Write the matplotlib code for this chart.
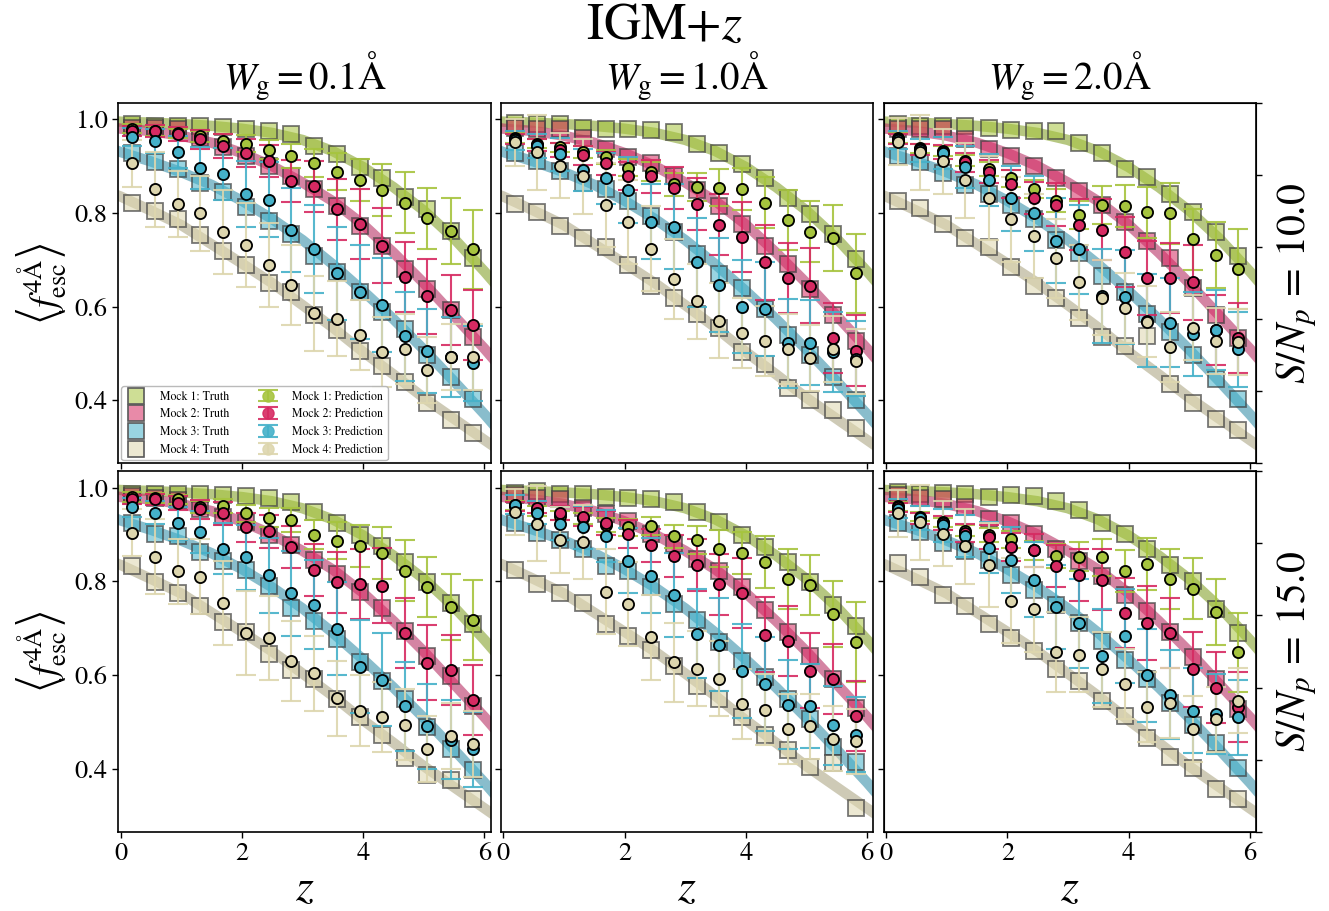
import numpy as np
import matplotlib
matplotlib.use('Agg')
import matplotlib.pyplot as plt
from matplotlib.lines import Line2D

plt.rcParams['font.family'] = 'serif'
plt.rcParams['font.serif'] = ['STIXGeneral', 'Liberation Serif', 'DejaVu Serif']
plt.rcParams['mathtext.fontset'] = 'stix'

# redshift bins
z_bins = [0.19, 0.56, 0.94, 1.31, 1.69, 2.06, 2.44, 2.81, 3.19, 3.56, 3.94, 4.31, 4.69, 5.06, 5.44, 5.81]

# smooth truth curves (thick lines)
z_curve = [-0.1, 0.0, 0.5, 1.0, 1.5, 2.0, 2.5, 3.0, 3.5, 4.0, 4.5, 5.0, 5.5, 6.0, 6.2]
curve_m1 = [0.996, 0.995, 0.993, 0.990, 0.986, 0.980, 0.971, 0.956, 0.932, 0.898, 0.855, 0.805, 0.745, 0.675, 0.645]
curve_m2 = [0.982, 0.980, 0.975, 0.965, 0.950, 0.928, 0.900, 0.865, 0.825, 0.775, 0.715, 0.650, 0.580, 0.510, 0.480]
curve_m3 = [0.935, 0.930, 0.910, 0.887, 0.860, 0.826, 0.787, 0.742, 0.690, 0.633, 0.573, 0.508, 0.440, 0.370, 0.340]
curve_m4 = [0.840, 0.835, 0.805, 0.774, 0.733, 0.692, 0.650, 0.603, 0.555, 0.503, 0.455, 0.405, 0.360, 0.315, 0.297]

# truth (squares), per panel: [mock1, mock2, mock3, mock4]
truth_11 = [[0.989, 0.986, 0.986, 0.986, 0.984, 0.979, 0.974, 0.968, 0.943, 0.926, 0.898, 0.874, 0.833, 0.808, 0.761, 0.703],
            [0.982, 0.982, 0.979, 0.961, 0.940, 0.922, 0.901, 0.879, 0.851, 0.815, 0.773, 0.730, 0.680, 0.638, 0.592, 0.535],
            [0.927, 0.908, 0.893, 0.865, 0.844, 0.812, 0.783, 0.755, 0.709, 0.673, 0.631, 0.588, 0.553, 0.496, 0.450, 0.403],
            [0.822, 0.805, 0.786, 0.753, 0.719, 0.688, 0.650, 0.631, 0.581, 0.550, 0.506, 0.474, 0.438, 0.394, 0.357, 0.330]]
truth_12 = [[0.993, 0.991, 0.989, 0.982, 0.980, 0.979, 0.977, 0.973, 0.947, 0.927, 0.904, 0.874, 0.832, 0.797, 0.755, 0.702],
            [0.982, 0.979, 0.980, 0.961, 0.936, 0.920, 0.906, 0.879, 0.849, 0.814, 0.776, 0.730, 0.690, 0.638, 0.582, 0.526],
            [0.927, 0.911, 0.890, 0.865, 0.851, 0.826, 0.794, 0.760, 0.712, 0.670, 0.639, 0.594, 0.540, 0.496, 0.450, 0.400],
            [0.819, 0.801, 0.773, 0.746, 0.727, 0.689, 0.645, 0.618, 0.584, 0.554, 0.503, 0.477, 0.426, 0.400, 0.379, 0.341]]
truth_13 = [[0.989, 0.986, 0.986, 0.986, 0.982, 0.977, 0.975, 0.975, 0.950, 0.929, 0.893, 0.876, 0.840, 0.801, 0.759, 0.709],
            [0.980, 0.980, 0.979, 0.957, 0.936, 0.922, 0.901, 0.874, 0.847, 0.817, 0.780, 0.739, 0.703, 0.639, 0.581, 0.533],
            [0.922, 0.908, 0.885, 0.859, 0.840, 0.817, 0.787, 0.742, 0.714, 0.665, 0.632, 0.585, 0.545, 0.497, 0.446, 0.403],
            [0.826, 0.810, 0.776, 0.746, 0.727, 0.684, 0.645, 0.618, 0.575, 0.535, 0.516, 0.538, 0.435, 0.395, 0.359, 0.336]]
truth_21 = [[0.987, 0.987, 0.987, 0.986, 0.984, 0.982, 0.977, 0.970, 0.948, 0.924, 0.899, 0.875, 0.842, 0.798, 0.754, 0.708],
            [0.982, 0.977, 0.973, 0.955, 0.938, 0.927, 0.899, 0.878, 0.846, 0.816, 0.778, 0.743, 0.694, 0.640, 0.598, 0.534],
            [0.924, 0.902, 0.897, 0.863, 0.844, 0.824, 0.789, 0.743, 0.715, 0.677, 0.628, 0.587, 0.548, 0.488, 0.442, 0.396],
            [0.832, 0.798, 0.776, 0.747, 0.713, 0.691, 0.645, 0.610, 0.592, 0.548, 0.510, 0.471, 0.423, 0.386, 0.375, 0.336]]
truth_22 = [[0.989, 0.993, 0.986, 0.986, 0.981, 0.977, 0.975, 0.970, 0.948, 0.927, 0.898, 0.874, 0.842, 0.798, 0.749, 0.705],
            [0.984, 0.979, 0.975, 0.957, 0.943, 0.929, 0.901, 0.879, 0.847, 0.822, 0.787, 0.739, 0.691, 0.640, 0.592, 0.529],
            [0.925, 0.904, 0.888, 0.869, 0.833, 0.822, 0.787, 0.751, 0.717, 0.670, 0.629, 0.595, 0.549, 0.505, 0.446, 0.413],
            [0.825, 0.794, 0.775, 0.753, 0.709, 0.684, 0.654, 0.620, 0.577, 0.549, 0.511, 0.472, 0.439, 0.403, 0.411, 0.315]]
truth_23 = [[0.991, 0.987, 0.989, 0.986, 0.980, 0.984, 0.982, 0.972, 0.952, 0.924, 0.902, 0.870, 0.835, 0.801, 0.740, 0.690],
            [0.984, 0.977, 0.975, 0.958, 0.933, 0.925, 0.901, 0.868, 0.844, 0.812, 0.771, 0.736, 0.691, 0.639, 0.592, 0.527],
            [0.924, 0.906, 0.881, 0.865, 0.846, 0.814, 0.782, 0.750, 0.711, 0.672, 0.632, 0.592, 0.541, 0.493, 0.455, 0.401],
            [0.839, 0.809, 0.771, 0.747, 0.708, 0.679, 0.651, 0.612, 0.587, 0.545, 0.513, 0.465, 0.425, 0.402, 0.357, 0.334]]

# predictions (circles), per panel
pred_11 = [[0.980, 0.975, 0.970, 0.964, 0.954, 0.948, 0.935, 0.922, 0.906, 0.888, 0.871, 0.849, 0.822, 0.789, 0.762, 0.722],
           [0.975, 0.975, 0.968, 0.957, 0.943, 0.929, 0.911, 0.869, 0.857, 0.808, 0.776, 0.730, 0.663, 0.622, 0.592, 0.561],
           [0.962, 0.954, 0.930, 0.896, 0.883, 0.840, 0.828, 0.764, 0.723, 0.671, 0.631, 0.604, 0.537, 0.505, 0.492, 0.479],
           [0.906, 0.851, 0.819, 0.799, 0.760, 0.732, 0.689, 0.646, 0.586, 0.574, 0.540, 0.503, 0.509, 0.464, 0.492, 0.492]]
pred_12 = [[0.960, 0.948, 0.940, 0.930, 0.920, 0.897, 0.888, 0.861, 0.856, 0.854, 0.851, 0.822, 0.785, 0.760, 0.746, 0.671],
           [0.958, 0.945, 0.935, 0.923, 0.906, 0.879, 0.878, 0.854, 0.819, 0.775, 0.749, 0.695, 0.661, 0.645, 0.533, 0.506],
           [0.955, 0.943, 0.925, 0.891, 0.874, 0.849, 0.781, 0.771, 0.695, 0.646, 0.600, 0.595, 0.522, 0.523, 0.503, 0.489],
           [0.951, 0.930, 0.901, 0.878, 0.817, 0.780, 0.724, 0.659, 0.611, 0.570, 0.543, 0.526, 0.510, 0.490, 0.509, 0.483]]
pred_13 = [[0.960, 0.938, 0.932, 0.912, 0.893, 0.874, 0.851, 0.826, 0.796, 0.817, 0.815, 0.801, 0.799, 0.744, 0.710, 0.680],
           [0.958, 0.936, 0.930, 0.908, 0.888, 0.862, 0.832, 0.818, 0.775, 0.764, 0.717, 0.661, 0.661, 0.652, 0.550, 0.533],
           [0.956, 0.934, 0.928, 0.899, 0.870, 0.831, 0.799, 0.741, 0.722, 0.622, 0.620, 0.570, 0.565, 0.542, 0.550, 0.509],
           [0.952, 0.930, 0.910, 0.870, 0.832, 0.786, 0.751, 0.703, 0.652, 0.619, 0.597, 0.568, 0.513, 0.555, 0.526, 0.524]]
pred_21 = [[0.980, 0.978, 0.975, 0.959, 0.961, 0.945, 0.936, 0.931, 0.900, 0.887, 0.875, 0.861, 0.823, 0.788, 0.745, 0.717],
           [0.975, 0.975, 0.968, 0.954, 0.945, 0.915, 0.907, 0.874, 0.824, 0.798, 0.794, 0.791, 0.689, 0.626, 0.610, 0.547],
           [0.958, 0.947, 0.924, 0.906, 0.870, 0.851, 0.813, 0.774, 0.750, 0.699, 0.618, 0.590, 0.533, 0.490, 0.462, 0.441],
           [0.904, 0.853, 0.821, 0.810, 0.754, 0.690, 0.679, 0.630, 0.604, 0.550, 0.524, 0.510, 0.494, 0.442, 0.469, 0.453]]
pred_22 = [[0.962, 0.950, 0.940, 0.935, 0.920, 0.915, 0.918, 0.896, 0.889, 0.870, 0.860, 0.841, 0.805, 0.792, 0.730, 0.670],
           [0.960, 0.957, 0.945, 0.938, 0.925, 0.902, 0.877, 0.854, 0.835, 0.794, 0.775, 0.686, 0.673, 0.609, 0.592, 0.513],
           [0.964, 0.947, 0.923, 0.915, 0.897, 0.844, 0.812, 0.771, 0.688, 0.665, 0.609, 0.581, 0.536, 0.533, 0.492, 0.472],
           [0.948, 0.923, 0.888, 0.884, 0.778, 0.751, 0.680, 0.627, 0.613, 0.592, 0.538, 0.526, 0.485, 0.490, 0.464, 0.458]]
pred_23 = [[0.960, 0.938, 0.926, 0.908, 0.899, 0.890, 0.866, 0.854, 0.853, 0.851, 0.822, 0.837, 0.805, 0.784, 0.735, 0.648],
           [0.958, 0.935, 0.924, 0.903, 0.895, 0.874, 0.866, 0.832, 0.814, 0.803, 0.732, 0.711, 0.690, 0.612, 0.573, 0.532],
           [0.955, 0.935, 0.920, 0.897, 0.872, 0.846, 0.803, 0.745, 0.710, 0.640, 0.683, 0.599, 0.558, 0.524, 0.517, 0.510],
           [0.945, 0.926, 0.902, 0.875, 0.835, 0.759, 0.740, 0.649, 0.643, 0.612, 0.580, 0.531, 0.540, 0.485, 0.505, 0.545]]

# 1-sigma spread of predictions, per mock
err_m1 = [0.010, 0.010, 0.010, 0.012, 0.015, 0.018, 0.020, 0.025, 0.030, 0.040, 0.045, 0.055, 0.065, 0.065, 0.070, 0.085]
err_m2 = [0.010, 0.012, 0.015, 0.020, 0.025, 0.030, 0.035, 0.045, 0.055, 0.065, 0.075, 0.080, 0.075, 0.080, 0.075, 0.075]
err_m3 = [0.020, 0.025, 0.035, 0.045, 0.055, 0.070, 0.080, 0.090, 0.095, 0.100, 0.100, 0.100, 0.095, 0.090, 0.085, 0.080]
err_m4 = [0.050, 0.080, 0.070, 0.080, 0.090, 0.090, 0.090, 0.085, 0.080, 0.080, 0.075, 0.075, 0.075, 0.070, 0.070, 0.070]

col_titles = [r'$W_{\rm g} = 0.1{\rm \AA}$', r'$W_{\rm g} = 1.0{\rm \AA}$', r'$W_{\rm g} = 2.0{\rm \AA}$']
row_titles = [r'$S/N_p\,=\,10.0$', r'$S/N_p\,=\,15.0$']

cores = ['#a6c43e', '#d62a62', '#45b1c9', '#ddd6ae']
cores_linha = ['#86a32e', '#b83366', '#3a92ab', '#aea886']
curvas = [curve_m1, curve_m2, curve_m3, curve_m4]
erros = [err_m1, err_m2, err_m3, err_m4]
truths = [[truth_11, truth_12, truth_13], [truth_21, truth_22, truth_23]]
preds = [[pred_11, pred_12, pred_13], [pred_21, pred_22, pred_23]]

fig, axes = plt.subplots(2, 3, figsize=(13.29, 9.11), dpi=100, sharex=True, sharey=True)
fig.subplots_adjust(left=0.089, right=0.945, top=0.887, bottom=0.087, wspace=0.028, hspace=0.022)

for r in range(2):
    for c in range(3):
        ax = axes[r, c]
        h_truth = []
        h_pred = []
        for m in range(4):
            ax.plot(z_curve, curvas[m], '-', color=cores_linha[m], lw=7.5, alpha=0.6,
                    solid_capstyle='butt', zorder=1)
            rgb = matplotlib.colors.to_rgb(cores[m])
            ax.plot(z_bins, truths[r][c][m], 's', ls='', ms=11, mfc=rgb + (0.55,),
                    mec=(0.25, 0.25, 0.25, 0.7), mew=1.3, zorder=2)
            eb = ax.errorbar(z_bins, preds[r][c][m], yerr=erros[m], fmt='o', color=cores[m],
                             ms=8, mec=cores[m], elinewidth=1.5, capsize=7, capthick=1.5,
                             alpha=0.9, zorder=3, label='Mock %d: Prediction' % (m + 1))
            ax.plot(z_bins, preds[r][c][m], 'o', ls='', ms=8, mfc=cores[m], mec='k',
                    mew=1.3, zorder=4)
            h_truth.append(Line2D([], [], ls='', marker='s', ms=11, mfc=rgb + (0.55,),
                                  mec=(0.35, 0.35, 0.35), mew=1.2,
                                  label='Mock %d: Truth' % (m + 1)))
            h_pred.append(eb)

        ax.set_xlim(-0.04, 6.1)
        ax.set_ylim(0.265, 1.035)
        ax.set_xticks([0, 2, 4, 6])
        ax.set_yticks([0.4, 0.6, 0.8, 1.0])
        ax.tick_params(labelsize=19, length=4, width=1)
        for s in ax.spines.values():
            s.set_linewidth(1.2)

        if r == 0:
            ax.set_title(col_titles[c], fontsize=28, pad=3)
        if r == 1:
            ax.set_xlabel(r'$z$', fontsize=33, labelpad=2)
        if c == 0:
            ax.set_ylabel(r'$\left\langle f_{\rm esc}^{4{\rm \AA}}\right\rangle$', fontsize=27, labelpad=4)
        if c == 2:
            tw = ax.twinx()
            tw.set_yticks([0, 0.2, 0.4, 0.6, 0.8, 1.0])
            tw.set_yticklabels([])
            tw.tick_params(length=4, width=1)
            tw.set_ylabel(row_titles[r], fontsize=30, labelpad=6)
        if r == 0 and c == 0:
            ax.legend(handles=h_truth + h_pred, ncol=2, loc='lower left', fontsize=8.5,
                      frameon=True, fancybox=True, edgecolor='0.7', framealpha=0.9,
                      borderaxespad=0.25, columnspacing=2.4, handlelength=1.7,
                      labelspacing=0.5, handletextpad=1.2)

fig.text(0.5, 0.996, r'IGM+$z$', fontsize=37, ha='center', va='top')

plt.savefig('out.png', dpi=100)
